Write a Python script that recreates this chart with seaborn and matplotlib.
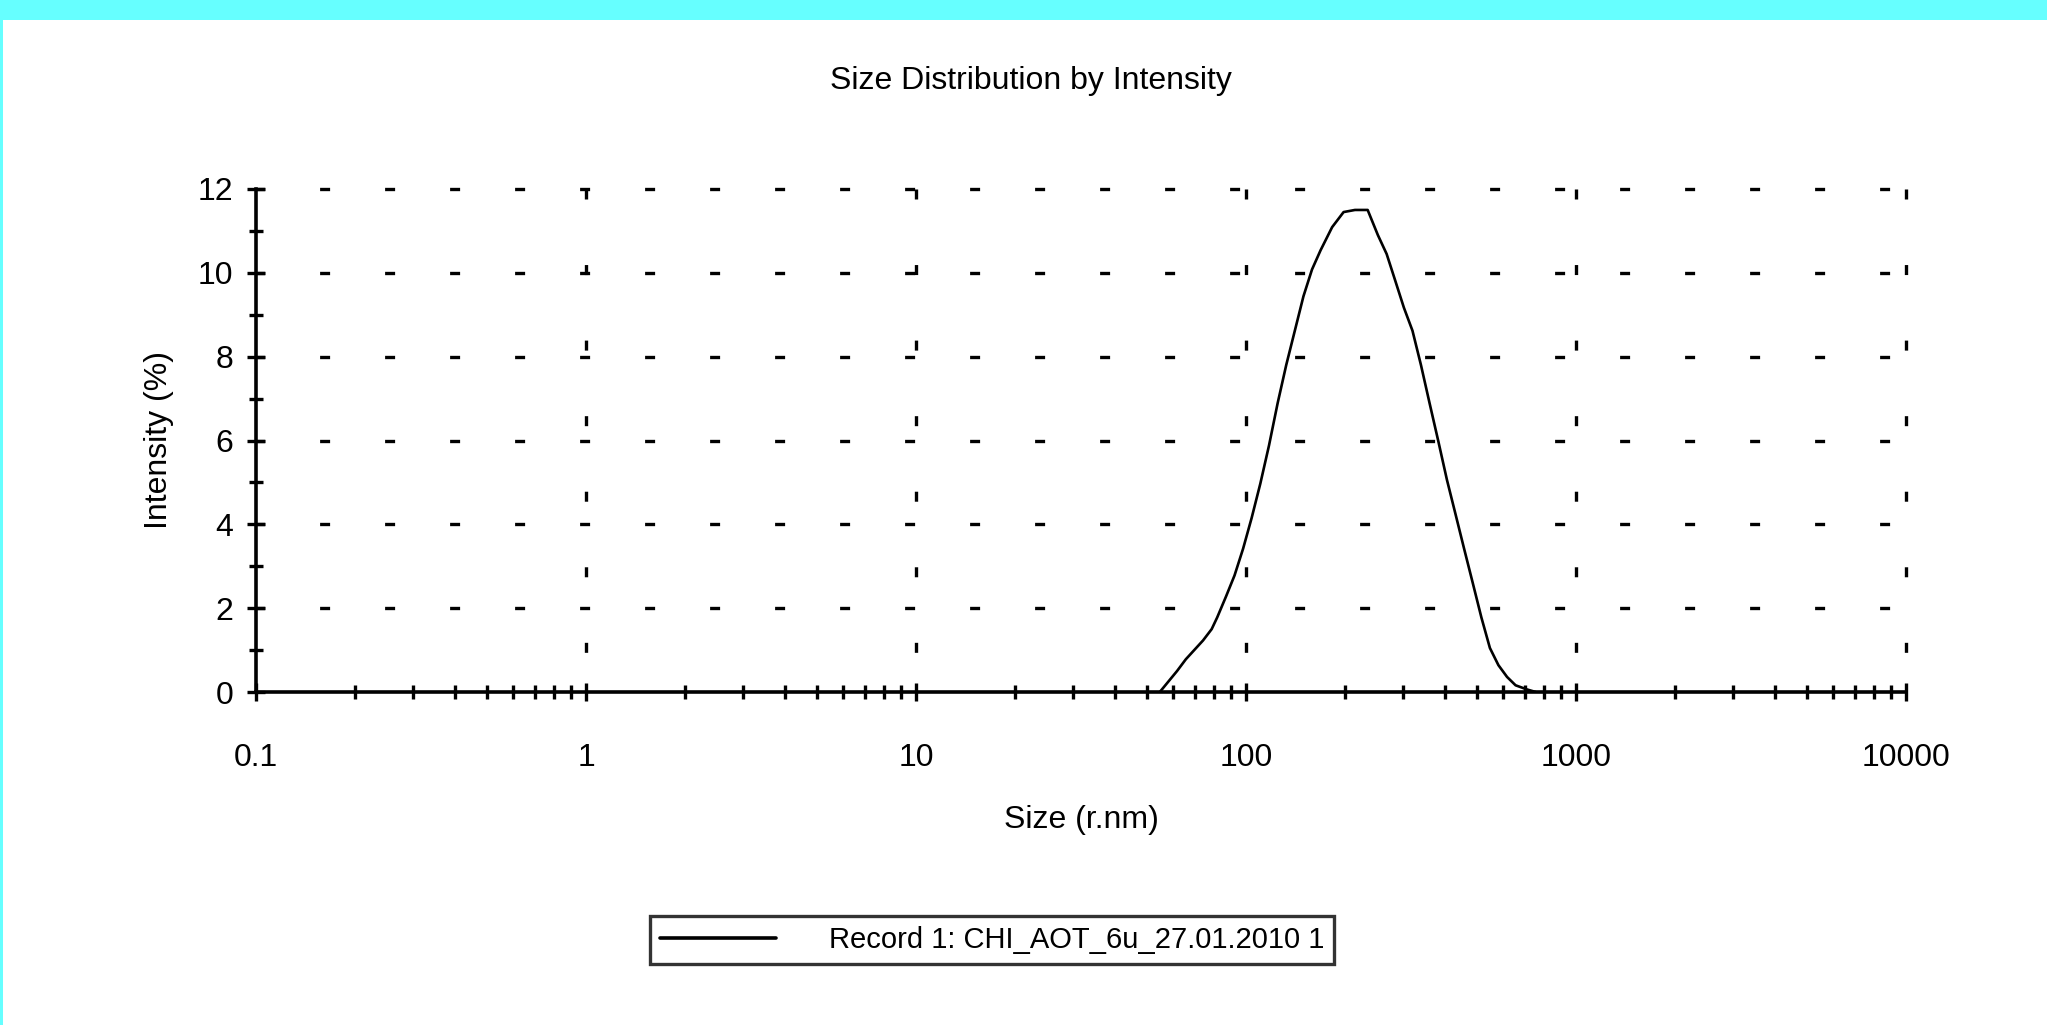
import numpy as np
import pandas as pd
import matplotlib
matplotlib.use("Agg")
import matplotlib.pyplot as plt
from matplotlib.ticker import LogLocator, FixedLocator, NullFormatter, FixedFormatter
import seaborn as sns

# ---- data ----
size_nm = [54.8, 61.8, 65.7, 74.1, 78.7, 81.8, 87.0, 92.3, 98.0, 104.0, 110.5, 117.4,
           124.7, 132.4, 140.6, 149.3, 158.5, 168.3, 182.4, 197.6, 213.9, 233.7, 251.0,
           266.8, 283.4, 300.9, 319.5, 339.0, 360.0, 382.7, 406.4, 431.5, 458.0, 486.6,
           516.7, 548.4, 582.0, 618.0, 656.0, 711.0, 755.0]
intensity = [0.0, 0.5, 0.78, 1.23, 1.5, 1.78, 2.28, 2.78, 3.42, 4.15, 4.97, 5.88,
             6.89, 7.8, 8.62, 9.44, 10.08, 10.54, 11.09, 11.45, 11.5, 11.5, 10.9,
             10.45, 9.81, 9.17, 8.62, 7.8, 6.89, 5.98, 5.06, 4.24, 3.42, 2.6,
             1.78, 1.05, 0.64, 0.36, 0.16, 0.06, 0.0]
record_label = "Record 1: CHI_AOT_6u_27.01.2010 1"
x_ticks = [0.1, 1, 10, 100, 1000, 10000]
x_tick_labels = ["0.1", "1", "10", "100", "1000", "10000"]
y_ticks = [0, 2, 4, 6, 8, 10, 12]
title = "Size Distribution by Intensity"
xlabel = "Size (r.nm)"
ylabel = "Intensity (%)"

df = pd.DataFrame({"Size": size_nm, "Intensity": intensity, "Record": record_label})

sns.set_style("white")
plt.rcParams["font.family"] = ["Liberation Sans", "DejaVu Sans"]
plt.rcParams["text.color"] = "black"
plt.rcParams["axes.labelcolor"] = "black"
plt.rcParams["xtick.color"] = "black"
plt.rcParams["ytick.color"] = "black"
plt.rcParams["lines.scale_dashes"] = False

W, H = 2047, 1025
fig = plt.figure(figsize=(W / 100, H / 100), dpi=100)
fig.patch.set_facecolor("white")

cyan = "#66ffff"
fig.add_artist(plt.Rectangle((0, 1 - 20 / H), 1, 20 / H, transform=fig.transFigure,
                             facecolor=cyan, edgecolor="none", zorder=0))
fig.add_artist(plt.Rectangle((0, 0), 3 / W, 1, transform=fig.transFigure,
                             facecolor=cyan, edgecolor="none", zorder=0))

left, right, top, bottom = 256, 1906, 189, 692
ax = fig.add_axes([left / W, 1 - bottom / H, (right - left) / W, (bottom - top) / H])
ax.set_facecolor("white")

sns.lineplot(data=df, x="Size", y="Intensity", hue="Record", palette=["black"],
             ax=ax, linewidth=1.9, legend=True)

ax.set_xscale("log")
ax.set_xlim(0.1, 10000)
ax.set_ylim(0, 12)

# sparse dash grid (dash ~10px, period ~65px horizontally, ~75.5px vertically)
for yv in y_ticks[1:]:
    ax.axhline(yv, color="black", lw=2.4, linestyle=(1.0, (7.2, 39.6)), zorder=1, clip_on=False)
xtrans = ax.get_xaxis_transform()
for xv in x_ticks[1:]:
    ax.plot([xv, xv], [1, 0], transform=xtrans, color="black", lw=2.4,
            linestyle=(0, (7.2, 47.2)), zorder=1, clip_on=False)

for s in ["top", "right"]:
    ax.spines[s].set_visible(False)
for s in ["left", "bottom"]:
    ax.spines[s].set_color("black")
    ax.spines[s].set_linewidth(2.6)
    ax.spines[s].set_zorder(3)

ax.xaxis.set_major_locator(FixedLocator(x_ticks))
ax.xaxis.set_major_formatter(FixedFormatter(x_tick_labels))
ax.xaxis.set_minor_locator(LogLocator(base=10, subs=np.arange(2, 10)))
ax.xaxis.set_minor_formatter(NullFormatter())
ax.yaxis.set_major_locator(FixedLocator(y_ticks))
ax.yaxis.set_minor_locator(FixedLocator([1, 3, 5, 7, 9, 11]))

ax.tick_params(axis="both", which="both", direction="inout", color="black", width=2.4,
               bottom=True, left=True)
ax.tick_params(axis="both", which="major", length=13, labelsize=23)
ax.tick_params(axis="both", which="minor", length=10)
ax.tick_params(axis="x", which="major", pad=30)
ax.tick_params(axis="y", which="major", pad=10)

ax.set_xlabel("")
ax.set_ylabel("")
fig.text(1081 / W, 1 - 820 / H, xlabel, ha="center", va="center", fontsize=23)
fig.text(159 / W, 1 - 440 / H, ylabel, ha="center", va="center", rotation=90, fontsize=23)
fig.text(1031 / W, 1 - 81 / H, title, ha="center", va="center", fontsize=23)

leg = ax.legend(loc="center", bbox_to_anchor=(992 / W, 1 - 940 / H),
                bbox_transform=fig.transFigure, frameon=True, fancybox=False,
                fontsize=21, handlelength=4.0, handletextpad=1.8, borderpad=0.35,
                borderaxespad=0)
leg.get_frame().set_edgecolor("black")
leg.get_frame().set_linewidth(2.4)
for l in leg.get_lines():
    l.set_linewidth(2.6)

fig.savefig("out.png", dpi=100)
